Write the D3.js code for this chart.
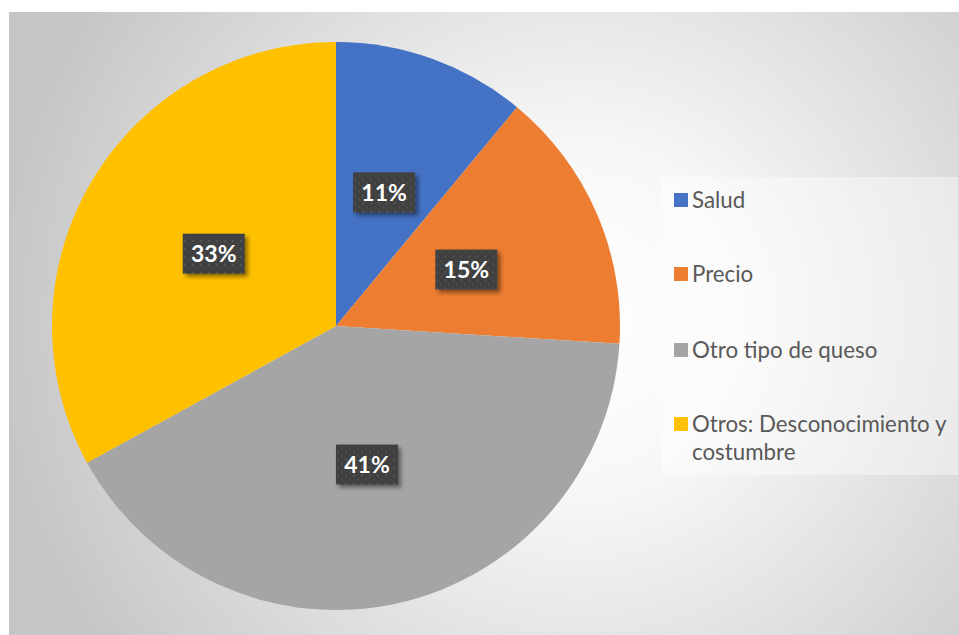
<!DOCTYPE html>
<html>
<head>
<meta charset="utf-8">
<script src="https://cdn.jsdelivr.net/npm/d3@7/dist/d3.min.js"></script>
<style>
  html, body { margin: 0; padding: 0; background: #ffffff; }
  svg { display: block; }
</style>
</head>
<body>
<div id="chart"></div>
<script>
// Reasons for not buying the product (share of respondents)
const categories = ["Salud", "Precio", "Otro tipo de queso", "Otros: Desconocimiento y costumbre"];
const legendLines = [["Salud"], ["Precio"], ["Otro tipo de queso"], ["Otros: Desconocimiento y", "costumbre"]];
const values = [11, 15, 41, 33];
const colors = ["#4472c4", "#ed7d31", "#a5a5a5", "#ffc000"];

const W = 959, H = 635;
const svg = d3.select("#chart").append("svg")
  .attr("width", W).attr("height", H);

const defs = svg.append("defs");

// Chart-area background: radial gradient, light centre fading to grey edges
const bg = defs.append("radialGradient").attr("id", "bgGrad")
  .attr("gradientUnits", "userSpaceOnUse")
  .attr("cx", 580).attr("cy", 320).attr("r", 580);
bg.append("stop").attr("offset", "0%").attr("stop-color", "#ffffff");
bg.append("stop").attr("offset", "30%").attr("stop-color", "#f7f7f7");
bg.append("stop").attr("offset", "100%").attr("stop-color", "#c6c6c6");

// Dotted fill for the data-label boxes
const pat = defs.append("pattern").attr("id", "dots")
  .attr("patternUnits", "userSpaceOnUse")
  .attr("width", 8).attr("height", 8);
pat.append("rect").attr("width", 8).attr("height", 8).attr("fill", "#3f3f3f");
pat.append("rect").attr("x", 2).attr("y", 2).attr("width", 2).attr("height", 2).attr("fill", "#555555");
pat.append("rect").attr("x", 6).attr("y", 6).attr("width", 2).attr("height", 2).attr("fill", "#4a4a4a");

const sh = defs.append("filter").attr("id", "shadow")
  .attr("x", "-20%").attr("y", "-20%").attr("width", "150%").attr("height", "160%");
sh.append("feDropShadow").attr("dx", 3).attr("dy", 3).attr("stdDeviation", 2)
  .attr("flood-color", "#000").attr("flood-opacity", 0.45);

svg.append("rect").attr("x", 9).attr("y", 12).attr("width", W - 9).attr("height", H - 12)
  .attr("fill", "url(#bgGrad)");

// Pie
const cx = 336, cy = 326, R = 284;
const pie = d3.pie().sort(null).value(d => d)(values);
const arc = d3.arc().innerRadius(0).outerRadius(R);
const labelArc = d3.arc().innerRadius(R * 0.5).outerRadius(R * 0.5);

const g = svg.append("g").attr("transform", `translate(${cx},${cy})`);
g.selectAll("path.slice").data(pie).join("path")
  .attr("class", "slice")
  .attr("d", arc)
  .attr("fill", (d, i) => colors[i]);

// Data labels
const bw = 62, bh = 40;
const lab = g.selectAll("g.lab").data(pie).join("g")
  .attr("class", "lab")
  .attr("transform", d => { const [x, y] = labelArc.centroid(d); return `translate(${x},${y})`; });
lab.append("rect")
  .attr("x", -bw / 2).attr("y", -bh / 2).attr("width", bw).attr("height", bh)
  .attr("fill", "url(#dots)")
  .attr("filter", "url(#shadow)");
lab.append("text")
  .attr("text-anchor", "middle").attr("dy", "0.36em")
  .attr("font-family", "Lato, 'Open Sans', sans-serif")
  .attr("font-weight", "bold").attr("font-size", 23)
  .attr("fill", "#ffffff")
  .text(d => d.data + "%");

// Legend
const lg = svg.append("g");
lg.append("rect").attr("x", 662).attr("y", 177).attr("width", 296).attr("height", 298)
  .attr("fill", "#ffffff").attr("fill-opacity", 0.4);
const itemY = [200, 274, 350, 424];
legendLines.forEach((lines, i) => {
  lg.append("rect").attr("x", 674).attr("y", itemY[i] - 7).attr("width", 14).attr("height", 14)
    .attr("fill", colors[i]);
  lines.forEach((t, j) => {
    lg.append("text")
      .attr("x", 692).attr("y", itemY[i] + j * 28).attr("dy", "0.35em")
      .attr("font-family", "Lato, 'Open Sans', sans-serif")
      .attr("font-size", 22.3).attr("fill", "#595959")
      .text(t);
  });
});
</script>
</body>
</html>
